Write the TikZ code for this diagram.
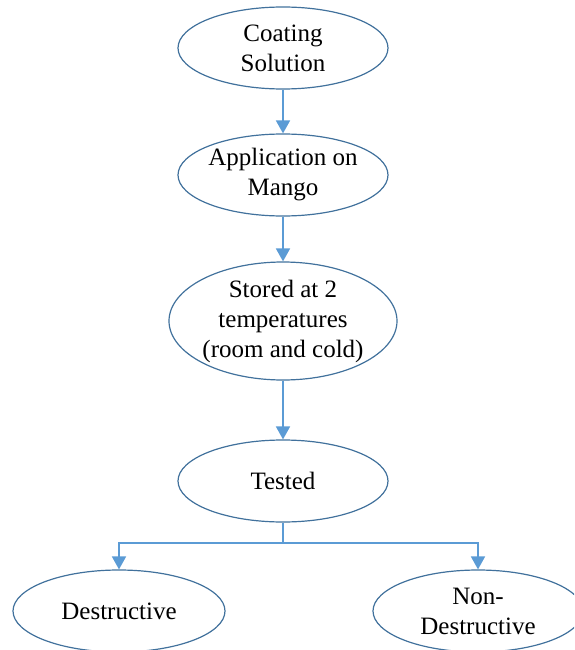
\documentclass[tikz,border=0pt]{standalone}
\usepackage{fontspec}
\setmainfont{Liberation Serif}
\usetikzlibrary{shapes.geometric,arrows.meta}
\definecolor{rimblue}{RGB}{65,113,156}
\definecolor{lineblue}{RGB}{91,155,213}

\begin{document}
\begin{tikzpicture}[x=1pt,y=-1pt,inner sep=-10pt,
		stage/.style={ellipse,draw=rimblue,line width=1.2pt,minimum width=210pt,minimum height=82pt,align=center,font=\fontsize{25}{30}\selectfont},
		flow/.style={draw=lineblue,line width=1.8pt,-{Triangle[length=13pt,width=14pt]}}]
		\useasboundingbox (0,0) rectangle (574,650);
		\clip (0,0) rectangle (574,650);
		\node [stage] (coat) at (283,48) {Coating\\Solution};
		\node [stage] (appl) at (283,175) {Application on\\Mango};
		\node [stage,inner xsep=-40pt,inner ysep=-25pt,minimum width=228pt,minimum height=118pt] (stor) at (283,321) {Stored at 2\\temperatures\\(room and cold)};
		\node [stage] (test) at (283,481) {Tested};
		\node [stage,minimum width=212pt] (dest) at (119,611) {Destructive};
		\node [stage] (ndest) at (478,611) {Non-\\Destructive};
		\coordinate (fork) at (283,543);
		\draw [flow] (coat) -- (appl);
		\draw [flow] (appl) -- (stor);
		\draw [flow] (stor) -- (test);
		\draw [flow] (test.south) -- (fork) -| (dest.north);
		\draw [flow] (fork) -| (ndest.north);
	\end{tikzpicture}
\end{document}
